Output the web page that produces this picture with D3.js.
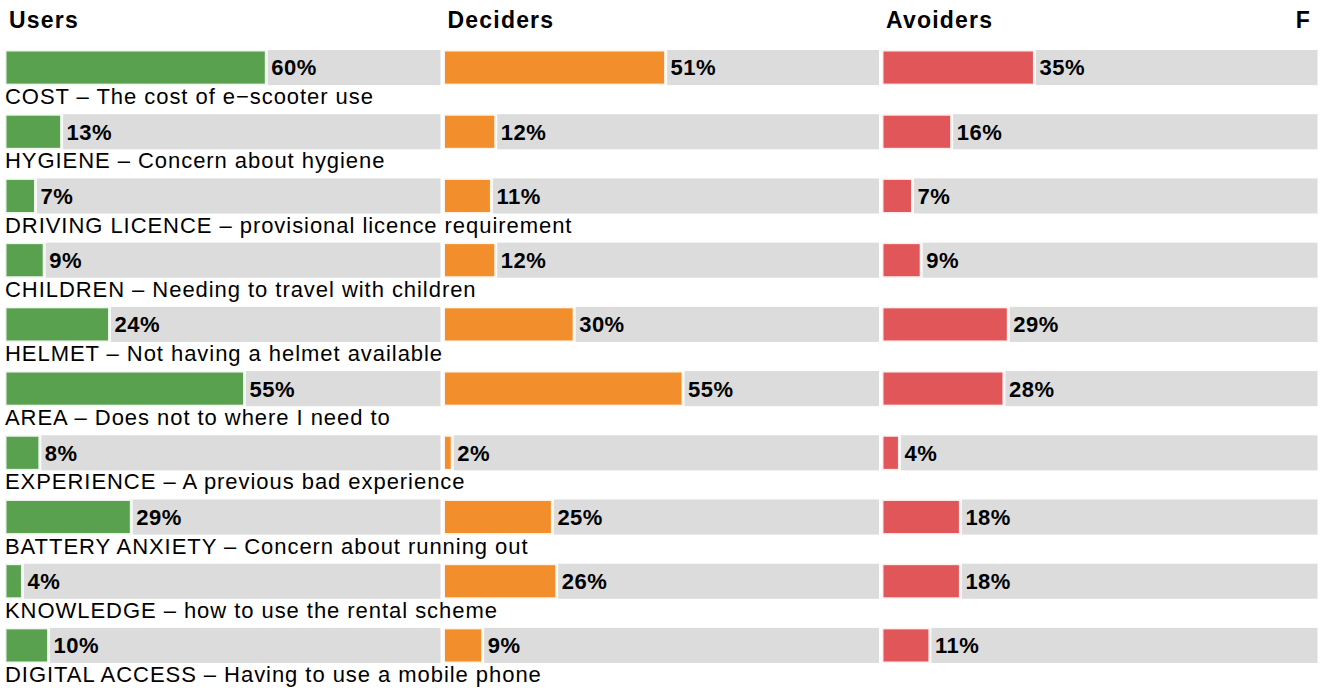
<!DOCTYPE html>
<html>
<head>
<meta charset="utf-8">
<script src="https://cdn.jsdelivr.net/npm/d3@7"></script>
<style>
  body { margin: 0; background: #fff; }
  svg { display: block; }
  .head { font-family: "Liberation Sans", Arial, sans-serif; font-weight: 700; font-size: 23px; letter-spacing: 1.2px; }
  .val { font-family: "Liberation Sans", Arial, sans-serif; font-weight: 700; font-size: 22px; letter-spacing: 0.5px; }
  .cat { font-family: "Liberation Sans", Arial, sans-serif; font-size: 22px; letter-spacing: 0.95px; }
</style>
</head>
<body>
<svg id="chart"></svg>
<script>
const width = 1328, height = 688;

const categories = ["COST", "HYGIENE", "DRIVING LICENCE", "CHILDREN", "HELMET",
  "AREA", "EXPERIENCE", "BATTERY ANXIETY", "KNOWLEDGE", "DIGITAL ACCESS"];
const descriptions = ["The cost of e\u2212scooter use", "Concern about hygiene",
  "provisional licence requirement", "Needing to travel with children",
  "Not having a helmet available", "Does not to where I need to",
  "A previous bad experience", "Concern about running out",
  "how to use the rental scheme", "Having to use a mobile phone"];
const groups = ["Users", "Deciders", "Avoiders"];
const users    = [60, 13, 7, 9, 24, 55, 8, 29, 4, 10];
const deciders = [51, 12, 11, 12, 30, 55, 2, 25, 26, 9];
const avoiders = [35, 16, 7, 9, 29, 28, 4, 18, 18, 11];
const colors = ["#59a14f", "#f28e2b", "#e15759"];

const series = [users, deciders, avoiders];

const svg = d3.select("#chart").attr("width", width).attr("height", height);

// panels side by side, each one a 0..100 track
const px = d3.scaleBand().domain(groups).range([5, 5 + 438.5 * 3 - 3]).paddingInner(3 / 438.5);
const x = d3.scaleLinear().domain([0, 100]).range([0, px.bandwidth()]);
const y = d3.scaleBand().domain(categories).range([50, 663]).paddingInner(29 / 64);

groups.forEach((g, gi) => {
  const panel = svg.append("g").attr("transform", `translate(${px(g)},0)`);
  panel.append("text").attr("class", "head")
    .attr("x", 4).attr("y", 28).text(g);

  const rows = panel.selectAll("g.row")
    .data(categories.map((c, i) => ({ c, v: series[gi][i] })))
    .join("g").attr("class", "row")
    .attr("transform", d => `translate(0,${y(d.c)})`);

  rows.append("rect")
    .attr("x", 0).attr("width", x(100)).attr("height", y.bandwidth())
    .attr("fill", "#dcdcdc");
  rows.append("rect")
    .attr("x", 0).attr("width", d => x(d.v)).attr("height", y.bandwidth())
    .attr("fill", colors[gi]).attr("stroke", "#fff").attr("stroke-width", 3)
    .attr("stroke-opacity", 0.9);
  rows.append("text").attr("class", "val")
    .attr("x", d => x(d.v) + 5).attr("y", y.bandwidth() / 2)
    .attr("dy", "0.36em").text(d => d.v + "%");
});

svg.append("text").attr("class", "head")
  .attr("x", 1311).attr("y", 28).attr("text-anchor", "end").text("F");

svg.selectAll("text.cat")
  .data(categories)
  .join("text").attr("class", "cat")
  .attr("x", 5)
  .attr("y", d => y(d) + y.bandwidth() + 19)
  .text((d, i) => `${d} \u2013 ${descriptions[i]}`);
</script>
</body>
</html>
